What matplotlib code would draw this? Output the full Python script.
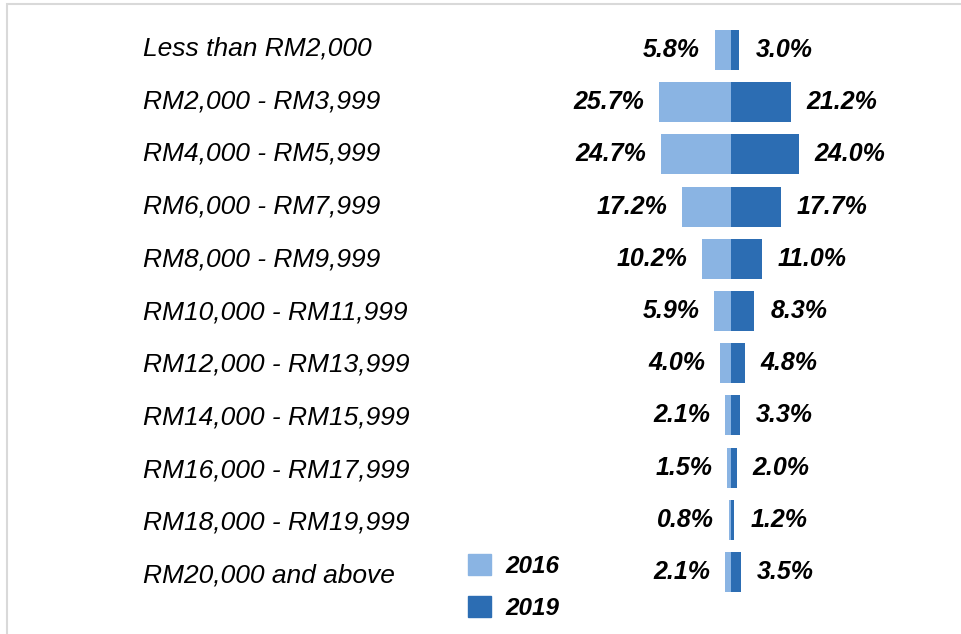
import matplotlib.pyplot as plt
from matplotlib.patches import Rectangle, Patch
import numpy as np

categories = ['Less than RM2,000', 'RM2,000 - RM3,999', 'RM4,000 - RM5,999',
              'RM6,000 - RM7,999', 'RM8,000 - RM9,999', 'RM10,000 - RM11,999',
              'RM12,000 - RM13,999', 'RM14,000 - RM15,999', 'RM16,000 - RM17,999',
              'RM18,000 - RM19,999', 'RM20,000 and above']
share_2016 = [5.8, 25.7, 24.7, 17.2, 10.2, 5.9, 4.0, 2.1, 1.5, 0.8, 2.1]
share_2019 = [3.0, 21.2, 24.0, 17.7, 11.0, 8.3, 4.8, 3.3, 2.0, 1.2, 3.5]
years = ['2016', '2019']

c2016 = '#8ab4e3'
c2019 = '#2c6db3'
font = 'Liberation Sans'

W, H = 962, 634
fig = plt.figure(figsize=(W/100, H/100), dpi=100)
ax = fig.add_axes([0, 0, 1, 1])
ax.axis('off')

# pixel layout -> data limits
px_per_pct = 2.82
x0 = 731
row0, row_step = 50, 52.2
ax.set_xlim(-x0/px_per_pct, (W-x0)/px_per_pct)
ax.set_ylim((H-row0)/row_step, -row0/row_step)

y = np.arange(len(categories))
ax.barh(y, [-v for v in share_2016], height=0.77, color=c2016)
ax.barh(y, share_2019, height=0.77, color=c2019)

for i, (a, b) in enumerate(zip(share_2016, share_2019)):
    ax.annotate(f'{a:.1f}%', (-a, i), xytext=(-10.5, 0), textcoords='offset points',
                ha='right', va='center', fontsize=18, fontweight='bold',
                fontstyle='italic', family=font)
    ax.annotate(f'{b:.1f}%', (b, i), xytext=(11.5, 0), textcoords='offset points',
                ha='left', va='center', fontsize=18, fontweight='bold',
                fontstyle='italic', family=font)

# category labels sit on a slightly wider pitch than the bars
for i, cat in enumerate(categories):
    ax.text(143/W, i * 1.01 - 0.03, cat, transform=ax.get_yaxis_transform(), ha='left',
            va='center', fontsize=19, fontstyle='italic', family=font)

handles = [Patch(color=c2016), Patch(color=c2019)]
leg = fig.legend(handles, years, loc='upper left', bbox_to_anchor=(468/W, 1-554/H),
                 frameon=False, handlelength=0.95, handleheight=0.95,
                 handletextpad=0.6, labelspacing=0.75, borderpad=0, borderaxespad=0,
                 prop={'family': font, 'size': 17.5, 'weight': 'bold', 'style': 'italic'})

# light frame around the chart area
fig.add_artist(Rectangle((7/W, -0.1), 1.1, 1.1 - 4/H, transform=fig.transFigure,
                         fill=False, edgecolor='#d9d9d9', linewidth=1.5))

fig.savefig('out.png', dpi=100)
